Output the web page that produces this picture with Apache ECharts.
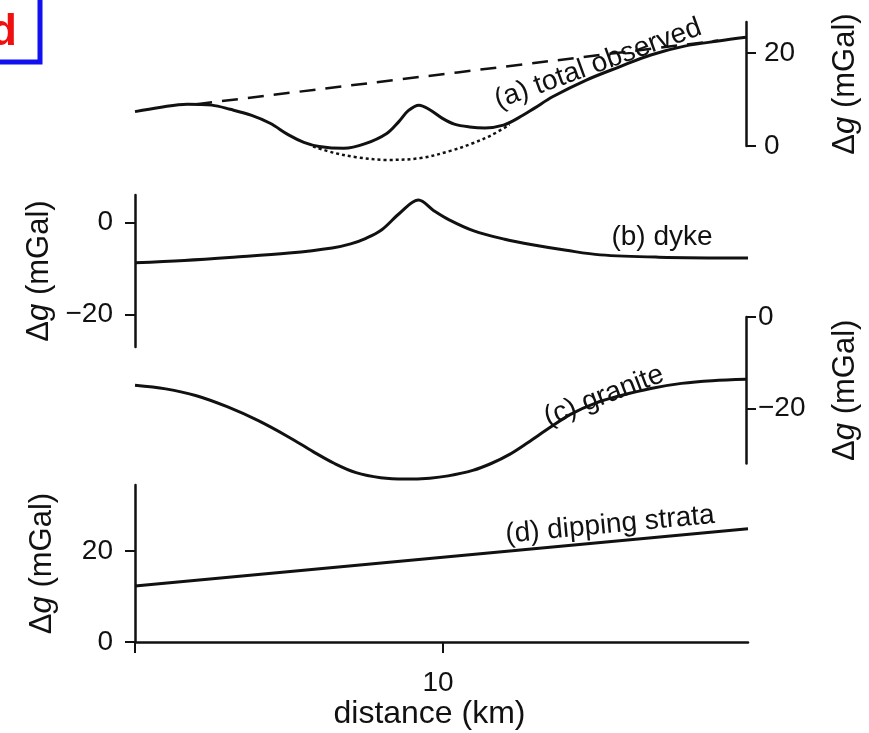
<!DOCTYPE html>
<html>
<head>
<meta charset="utf-8">
<style>
  html, body { margin: 0; padding: 0; background: #fff; }
  #chart { width: 869px; height: 733px; }
</style>
<script src="https://cdn.jsdelivr.net/npm/echarts@6/dist/echarts.min.js"></script>
</head>
<body>
<div id="chart"></div>
<script>
// distance (km) vs gravity anomaly (mGal)
const totalObserved = [
  [0, 7.4], [0.8, 8.3], [1.7, 9.0], [2.5, 8.8], [3.1, 7.9], [3.8, 6.6], [4.4, 4.9],
  [5.0, 2.4], [5.5, 0.8], [6.0, -0.1], [6.8, -0.5], [7.5, 0.5], [8.2, 2.7], [8.6, 5.3],
  [8.9, 7.6], [9.25, 8.8], [9.6, 7.8], [10.0, 6.0], [10.4, 4.7], [10.9, 4.1], [11.4, 3.9],
  [12.0, 4.5], [12.5, 6.1], [13.0, 8.1], [13.6, 10.6], [14.7, 14.2], [15.8, 17.1],
  [16.8, 19.6], [17.9, 21.5], [19.0, 22.6], [19.9, 23.4]
]
const regionalTrend = [[2.0, 9.0], [19.0, 22.7]]
const residual = [
  [5.8, -0.1], [6.5, -1.5], [7.2, -2.4], [8.2, -3.0], [9.3, -2.6], [10.3, -1.0],
  [11.0, 0.6], [11.6, 2.3], [12.2, 4.6]
]
const dyke = [
  [0, -8.7], [1.6, -8.2], [3.2, -7.5], [5.0, -6.6], [6.4, -5.5], [7.0, -4.6], [7.5, -3.4],
  [8.0, -1.6], [8.6, 2.1], [9.2, 4.9], [9.7, 2.6], [10.2, 0.6], [11.0, -1.8], [12.0, -3.6],
  [12.9, -4.8], [14.0, -6.0], [15.1, -7.0], [17.0, -7.5], [19.9, -7.7]
]
const granite = [
  [0, -14.9], [1.0, -15.7], [2.0, -17.2], [3.0, -19.6], [4.0, -22.6], [5.0, -26.2],
  [5.8, -29.4], [6.5, -32.0], [7.2, -34.0], [8.0, -35.1], [8.8, -35.4], [9.6, -35.2],
  [10.2, -34.7], [11.0, -33.5], [11.6, -32.0], [12.2, -30.0], [12.8, -27.4], [13.5, -24.2],
  [14.2, -21.2], [15.0, -18.8], [15.8, -17.2], [16.8, -15.6], [17.8, -14.5], [18.8, -13.9],
  [19.9, -13.6]
]
const dippingStrata = [[0, 12.3], [19.9, 24.9]]

const ticksA = [0, 20]
const ticksB = [-20, 0]
const ticksC = [-20, 0]
const ticksD = [0, 20]
const distTicks = [0, 10]
const distLabels = [10]

const panelLabels = ['(a) total observed', '(b) dyke', '(c) granite', '(d) dipping strata']

const FONT = '"Liberation Sans", Arial, Helvetica, sans-serif'
const INK = '#111111'

const chart = echarts.init(document.getElementById('chart'))

function fmt(v) {
  return v < 0 ? '\u2212' + Math.abs(v) : String(v)
}

function yAxis(grid, pos, min, max, ticks, margin) {
  return {
    type: 'value',
    gridIndex: grid,
    position: pos,
    min: min,
    max: max,
    name: '\u0394{i|g} (mGal)',
    nameLocation: 'middle',
    nameRotate: 90,
    nameGap: pos === 'left' ? 77 : 84,
    nameTextStyle: {
      fontFamily: FONT,
      fontSize: 31,
      color: INK,
      rich: { i: { fontFamily: FONT, fontSize: 31, fontStyle: 'italic', color: INK } },
    },
    axisLine: { show: true, onZero: false, lineStyle: { color: INK, width: 2.5 } },
    axisTick: { show: true, length: 10, customValues: ticks, lineStyle: { color: INK, width: 2 } },
    axisLabel: {
      customValues: ticks,
      margin: margin,
      fontFamily: FONT,
      fontSize: 28,
      color: INK,
      formatter: fmt,
    },
    splitLine: { show: false },
  }
}

function hiddenX(grid) {
  return { type: 'value', gridIndex: grid, min: 0, max: 19.9, show: false }
}

function line(name, data, grid, style) {
  return {
    name: name,
    type: 'line',
    xAxisIndex: grid,
    yAxisIndex: grid,
    data: data,
    smooth: 0.35,
    symbol: 'none',
    clip: false,
    silent: true,
    lineStyle: Object.assign({ color: INK, width: 3 }, style || {}),
  }
}

chart.setOption({
  animation: false,
  backgroundColor: '#ffffff',
  grid: [
    { left: 135, right: 121, top: 22, height: 124 },
    { left: 135, right: 121, top: 195, height: 152 },
    { left: 135, right: 121, top: 317, height: 146.5 },
    { left: 135, right: 121, top: 485, height: 157 },
  ],
  xAxis: [
    hiddenX(0),
    hiddenX(1),
    hiddenX(2),
    {
      type: 'value',
      gridIndex: 3,
      min: 0,
      max: 19.9,
      name: 'distance (km)',
      nameLocation: 'middle',
      nameGap: 50,
      nameTextStyle: { fontFamily: FONT, fontSize: 32, color: INK, padding: [0, 24, 0, 0] },
      axisLine: { onZero: false, lineStyle: { color: INK, width: 2.5 } },
      axisTick: { show: true, length: 11, customValues: distTicks, lineStyle: { color: INK, width: 2 } },
      axisLabel: {
        customValues: distLabels,
        margin: 27,
        fontFamily: FONT,
        fontSize: 28,
        color: INK,
        padding: [0, 10, 0, 0],
      },
      splitLine: { show: false },
    },
  ],
  yAxis: [
    yAxis(0, 'right', 0, 26.7, ticksA, 18),
    yAxis(1, 'left', -27, 6, ticksB, 22),
    yAxis(2, 'right', -32, 0, ticksC, 12),
    yAxis(3, 'left', 0, 34.5, ticksD, 22),
  ],
  series: [
    line('regional', regionalTrend, 0, { type: [16, 10], width: 2.5 }),
    line('residual', residual, 0, { type: [3, 3], width: 2.5 }),
    line('total observed', totalObserved, 0),
    line('dyke', dyke, 1),
    line('granite', granite, 2),
    line('dipping strata', dippingStrata, 3),
  ],
  graphic: [
    {
      type: 'rect',
      shape: { x: -20, y: -20, width: 60, height: 82 },
      style: { fill: '#fff', stroke: '#1010f0', lineWidth: 5 },
    },
    {
      type: 'text',
      x: 17,
      y: 55,
      style: { text: 'd', fill: '#f01010', font: 'bold 44px ' + FONT, align: 'right', verticalAlign: 'bottom' },
    },
    {
      type: 'text',
      x: 598,
      y: 64,
      rotation: 20 * Math.PI / 180,
      style: { text: panelLabels[0], fill: INK, font: '28px ' + FONT, align: 'center', verticalAlign: 'middle' },
    },
    {
      type: 'text',
      x: 662,
      y: 237,
      style: { text: panelLabels[1], fill: INK, font: '28px ' + FONT, align: 'center', verticalAlign: 'middle' },
    },
    {
      type: 'text',
      x: 604,
      y: 396,
      rotation: 21 * Math.PI / 180,
      style: { text: panelLabels[2], fill: INK, font: '28px ' + FONT, align: 'center', verticalAlign: 'middle' },
    },
    {
      type: 'text',
      x: 610,
      y: 525,
      rotation: 5.4 * Math.PI / 180,
      style: { text: panelLabels[3], fill: INK, font: '28px ' + FONT, align: 'center', verticalAlign: 'middle' },
    },
  ],
})
</script>
</body>
</html>
